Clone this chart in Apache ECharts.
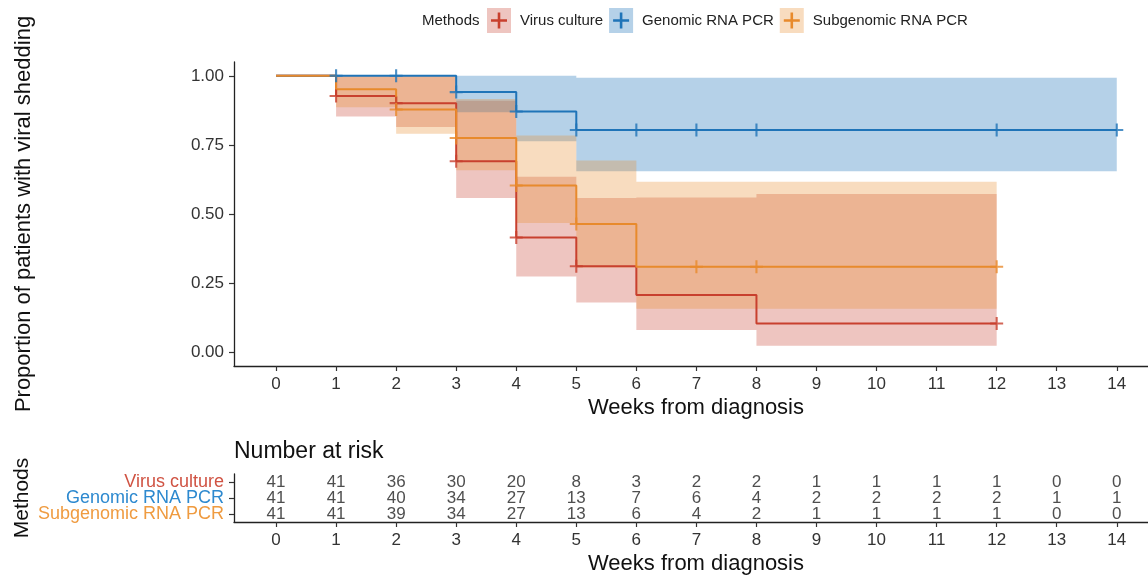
<!DOCTYPE html>
<html lang="en">
<head>
<meta charset="UTF-8">
<title>Viral shedding by method</title>
<script src="https://cdn.jsdelivr.net/npm/echarts@6.0.0/dist/echarts.min.js"></script>
<style>
    html, body { margin: 0; padding: 0; background: #fff; }
    #chart { width: 1148px; height: 577px; }
</style>
</head>
<body>
<div id="chart"></div>
<script>
var methods = ['Virus culture', 'Genomic RNA PCR', 'Subgenomic RNA PCR'];
var weeks = [0, 1, 2, 3, 4, 5, 6, 7, 8, 9, 10, 11, 12, 13, 14];
var yTicks = [0, 0.25, 0.5, 0.75, 1];

// survival steps: [week, proportion]
var virusSurv = [[0, 1], [1, 0.927], [2, 0.901], [3, 0.691], [4, 0.415], [5, 0.311], [6, 0.207], [8, 0.104], [12, 0.104]];
var genomicSurv = [[0, 1], [3, 0.941], [4, 0.871], [5, 0.804], [14, 0.804]];
var subgenomicSurv = [[0, 1], [1, 0.951], [2, 0.878], [3, 0.775], [4, 0.603], [5, 0.464], [6, 0.309], [12, 0.309]];

// confidence bands: [from, to, lower, upper]
var virusBand = [[1, 2, 0.853, 1], [2, 3, 0.815, 1], [3, 4, 0.558, 0.91], [4, 5, 0.274, 0.635], [5, 6, 0.18, 0.558], [6, 8, 0.08, 0.56], [8, 12, 0.023, 0.572]];
var genomicBand = [[3, 4, 0.868, 1], [4, 5, 0.763, 1], [5, 14, 0.655, 0.993]];
var subgenomicBand = [[1, 2, 0.886, 1], [2, 3, 0.79, 1], [3, 4, 0.658, 0.916], [4, 5, 0.467, 0.784], [5, 6, 0.306, 0.694], [6, 12, 0.157, 0.617]];

// censoring marks
var virusCensor = [[1, 0.927], [2, 0.901], [3, 0.691], [4, 0.415], [5, 0.311], [12, 0.104]];
var genomicCensor = [[1, 1], [2, 1], [3, 0.941], [4, 0.871], [5, 0.804], [6, 0.804], [7, 0.804], [8, 0.804], [12, 0.804], [14, 0.804]];
var subgenomicCensor = [[2, 0.878], [3, 0.775], [4, 0.603], [5, 0.464], [7, 0.309], [8, 0.309], [12, 0.309]];

// number at risk
var virusRisk = [41, 41, 36, 30, 20, 8, 3, 2, 2, 1, 1, 1, 1, 0, 0];
var genomicRisk = [41, 41, 40, 34, 27, 13, 7, 6, 4, 2, 2, 2, 2, 1, 1];
var subgenomicRisk = [41, 41, 39, 34, 27, 13, 6, 4, 2, 1, 1, 1, 1, 0, 0];

var lineColors = ['#C8402E', '#1F74B8', '#E88A2C'];
var bandColors = ['rgba(200,64,46,0.3)', 'rgba(31,116,184,0.33)', 'rgba(232,138,44,0.3)'];
var labelColors = ['#D05343', '#2D89CF', '#EF9B40'];
var plus = 'path://M6.7,0H9.3V6.7H16V9.3H9.3V16H6.7V9.3H0V6.7H6.7Z';
var font = "'Liberation Sans', Arial, sans-serif";

var chart = echarts.init(document.getElementById('chart'));

function bandSeries(name, band, color) {
    return {
        type: 'custom', name: name, xAxisIndex: 0, yAxisIndex: 0, silent: true, z: 1,
        data: band,
        encode: {x: [0, 1], y: [2, 3]},
        renderItem: function (params, api) {
            if (params.dataIndex !== 0) return;
            var top = [], bottom = [];
            band.forEach(function (b) {
                top.push(api.coord([b[0], b[3]]), api.coord([b[1], b[3]]));
                bottom.unshift(api.coord([b[1], b[2]]), api.coord([b[0], b[2]]));
            });
            return {type: 'polygon', shape: {points: top.concat(bottom)}, style: {fill: color}};
        }
    };
}

function stepSeries(name, data, color) {
    return {
        type: 'line', name: name, step: 'end', data: data, symbol: 'none', z: 3,
        lineStyle: {color: color, width: 2}, itemStyle: {color: color}, silent: true
    };
}

function censorSeries(name, data, color) {
    return {
        type: 'scatter', name: name, data: data, symbol: plus, symbolSize: 13, z: 4,
        itemStyle: {color: color}, silent: true
    };
}

function riskSeries(counts, method) {
    return {
        type: 'scatter', xAxisIndex: 1, yAxisIndex: 1, symbolSize: 1, silent: true,
        itemStyle: {color: 'rgba(0,0,0,0)'},
        data: weeks.map(function (w, i) { return [w, method, counts[i]]; }),
        label: {
            show: true, position: 'inside', fontSize: 17, color: '#222', fontFamily: font,
            formatter: function (p) { return p.value[2]; }
        }
    };
}

var axisLine = {show: true, onZero: false, lineStyle: {color: '#222', width: 1.3}};
var axisTick = {show: true, length: 5, lineStyle: {color: '#333', width: 1.2}};

var option = {
    animation: false,
    textStyle: {fontFamily: font},
    title: [
        {text: 'Methods', left: 417, top: 8, textStyle: {fontSize: 15, fontWeight: 'normal', color: '#222'}},
        {text: 'Number at risk', left: 229, top: 435, textStyle: {fontSize: 23, fontWeight: 'normal', color: '#111'}}
    ],
    legend: [
        {
            left: 487, top: 8, padding: 0, itemWidth: 24, itemHeight: 25, itemGap: 6, selectedMode: false,
            textStyle: {fontSize: 15, color: '#222', padding: [0, 0, 0, 4]},
            data: methods.map(function (m, i) {
                return {name: m, icon: 'rect', itemStyle: {color: bandColors[i], borderWidth: 0}};
            })
        },
        {
            left: 491, top: 12.5, padding: 0, itemWidth: 16, itemHeight: 16, itemGap: 6, selectedMode: false,
            textStyle: {fontSize: 15, color: 'rgba(0,0,0,0)', padding: [0, 0, 0, 12]},
            data: methods.map(function (m, i) {
                return {name: m, icon: plus, itemStyle: {color: lineColors[i], borderWidth: 0}};
            })
        }
    ],
    grid: [
        {left: 234, right: 0, top: 62, height: 304, outerBoundsMode: 'none'},
        {left: 234, right: 0, top: 474, height: 48, outerBoundsMode: 'none'}
    ],
    xAxis: [
        {
            type: 'value', gridIndex: 0, min: -0.7, max: 14.52,
            axisLine: axisLine, axisTick: Object.assign({customValues: weeks}, axisTick),
            splitLine: {show: false},
            axisLabel: {customValues: weeks, fontSize: 17, color: '#333', margin: 10},
            name: 'Weeks from diagnosis', nameLocation: 'middle', nameGap: 31, nameMoveOverlap: false,
            nameTextStyle: {fontSize: 22, color: '#111', padding: [0, 0, 0, 10]}
        },
        {
            type: 'value', gridIndex: 1, min: -0.7, max: 14.52,
            axisLine: axisLine, axisTick: Object.assign({customValues: weeks}, axisTick),
            splitLine: {show: false},
            axisLabel: {customValues: weeks, fontSize: 17, color: '#333', margin: 10},
            name: 'Weeks from diagnosis', nameLocation: 'middle', nameGap: 31, nameMoveOverlap: false,
            nameTextStyle: {fontSize: 22, color: '#111', padding: [0, 0, 0, 10]}
        }
    ],
    yAxis: [
        {
            type: 'value', gridIndex: 0, min: -0.05, max: 1.05,
            axisLine: axisLine, axisTick: Object.assign({customValues: yTicks}, axisTick),
            splitLine: {show: false},
            axisLabel: {
                customValues: yTicks, fontSize: 17, color: '#333', margin: 10,
                formatter: function (v) { return v.toFixed(2); }
            },
            name: 'Proportion of patients with viral shedding', nameLocation: 'middle', nameGap: 199,
            nameMoveOverlap: false,
            nameTextStyle: {fontSize: 22, color: '#111'}
        },
        {
            type: 'category', gridIndex: 1, data: methods.slice().reverse(),
            axisLine: axisLine, axisTick: Object.assign({alignWithLabel: true, interval: 0}, axisTick),
            splitLine: {show: false},
            axisLabel: {
                interval: 0, fontSize: 18, margin: 10,
                color: function (v) { return labelColors[methods.indexOf(v)]; }
            },
            name: 'Methods', nameLocation: 'middle', nameGap: 201, nameMoveOverlap: false,
            nameTextStyle: {fontSize: 21, color: '#111'}
        }
    ],
    series: [
        bandSeries(methods[0], virusBand, bandColors[0]),
        bandSeries(methods[1], genomicBand, bandColors[1]),
        bandSeries(methods[2], subgenomicBand, bandColors[2]),
        stepSeries(methods[0], virusSurv, lineColors[0]),
        stepSeries(methods[1], genomicSurv, lineColors[1]),
        stepSeries(methods[2], subgenomicSurv, lineColors[2]),
        censorSeries(methods[0], virusCensor, lineColors[0]),
        censorSeries(methods[1], genomicCensor, lineColors[1]),
        censorSeries(methods[2], subgenomicCensor, lineColors[2]),
        riskSeries(virusRisk, methods[0]),
        riskSeries(genomicRisk, methods[1]),
        riskSeries(subgenomicRisk, methods[2])
    ]
};

chart.setOption(option);
</script>
</body>
</html>
